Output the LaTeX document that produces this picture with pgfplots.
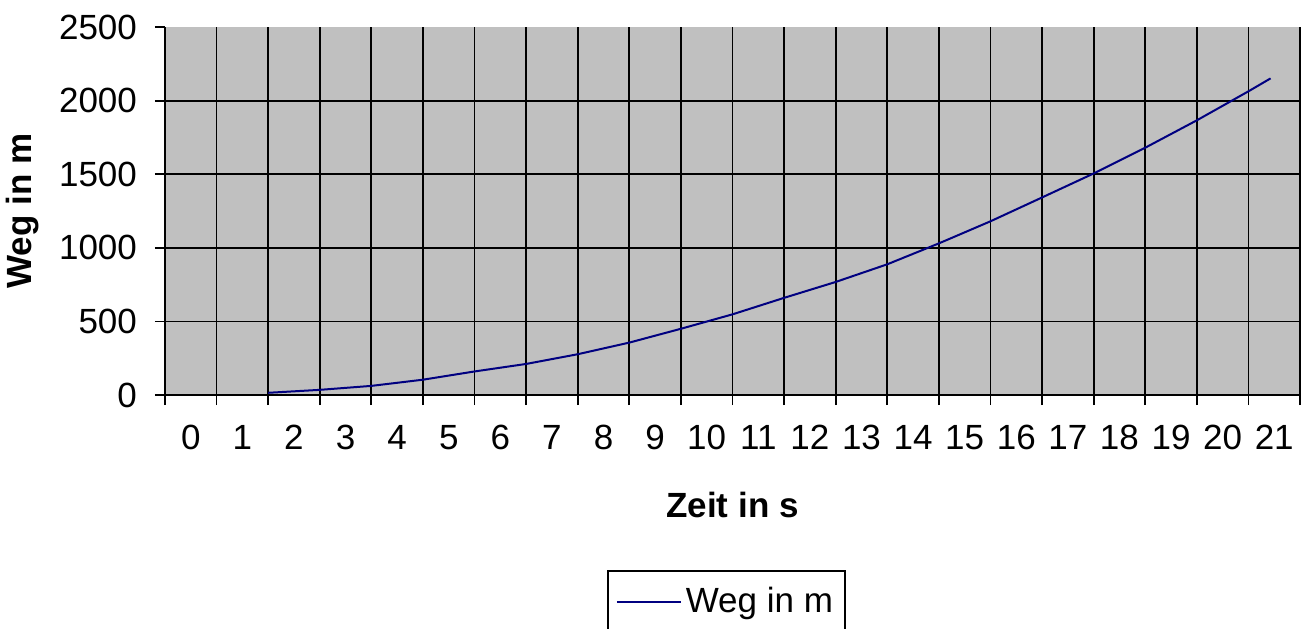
\documentclass[border=0pt]{standalone}
\usepackage{fontspec}
\setmainfont{Liberation Sans}
\usepackage{pgfplots}
\pgfplotsset{compat=1.18}
\definecolor{plotgray}{RGB}{192,192,192}
\definecolor{linenavy}{RGB}{0,0,128}
\begin{document}
\fontsize{17.5}{20}\selectfont
\begin{tikzpicture}
\clip (-82.5pt,-116.5pt) rectangle (568pt,197.5pt);
\begin{axis}[
  at={(0,0)}, anchor=south west,
  scale only axis,
  width=567.5pt, height=184pt,
  xmin=0, xmax=22, ymin=0, ymax=2500,
  axis lines=left,
  axis line style={line width=0.9pt, -},
  axis background/.style={fill=plotgray},
  xtick={0,...,22}, xticklabels={},
  ytick={0,500,1000,1500,2000},
  extra y ticks={2500},
  extra y tick style={grid=none},
  extra x ticks={0.5,1.5,...,21.5},
  extra x tick labels={0,1,2,3,4,5,6,7,8,9,10,11,12,13,14,15,16,17,18,19,20,21},
  extra x tick style={grid=none, major tick length=0pt, tick style={draw=none}},
  grid=major,
  grid style={black, line width=0.9pt},
  tick style={black, line width=0.9pt},
  tick align=outside,
  major tick length=5pt,
  scaled y ticks=false,
  /pgf/number format/1000 sep={},
  /pgf/number format/assume math mode=true,
  ticklabel style={font=\fontsize{17.5}{20}\selectfont},
  yticklabel style={xshift=-3pt},
  xticklabel style={yshift=-9pt},
  xlabel={\textbf{Zeit in s}},
  ylabel={\textbf{Weg in m}},
  xlabel style={at={(axis description cs:0.5,-0.299)}, anchor=center},
  ylabel style={at={(axis description cs:-0.1256,0.5)}, anchor=center},
  label style={font=\fontsize{17.5}{20}\selectfont},
  legend style={at={(rel axis cs:0.3894,-0.4755)}, anchor=north west,
    draw=black, line width=0.8pt, fill=white, font=\fontsize{17.5}{20}\selectfont,
    inner xsep=4pt, inner ysep=6pt},
  legend image code/.code={\draw[linenavy, line width=1pt] (0pt,0pt) -- (32pt,0pt);},
  clip=false,
]
\addplot[linenavy, line width=1pt] coordinates {
(2,15) (3,35) (4,62) (5,104) (6,160) (7,211) (8,277) (9,356) (10,450)
(11,548) (12,660) (13,768) (14,888) (15,1030) (16,1180) (17,1342)
(18,1505) (19,1680) (20,1866) (21,2063) (21.43,2151)
};
\addlegendentry{Weg in m}
\end{axis}
\end{tikzpicture}
\end{document}
